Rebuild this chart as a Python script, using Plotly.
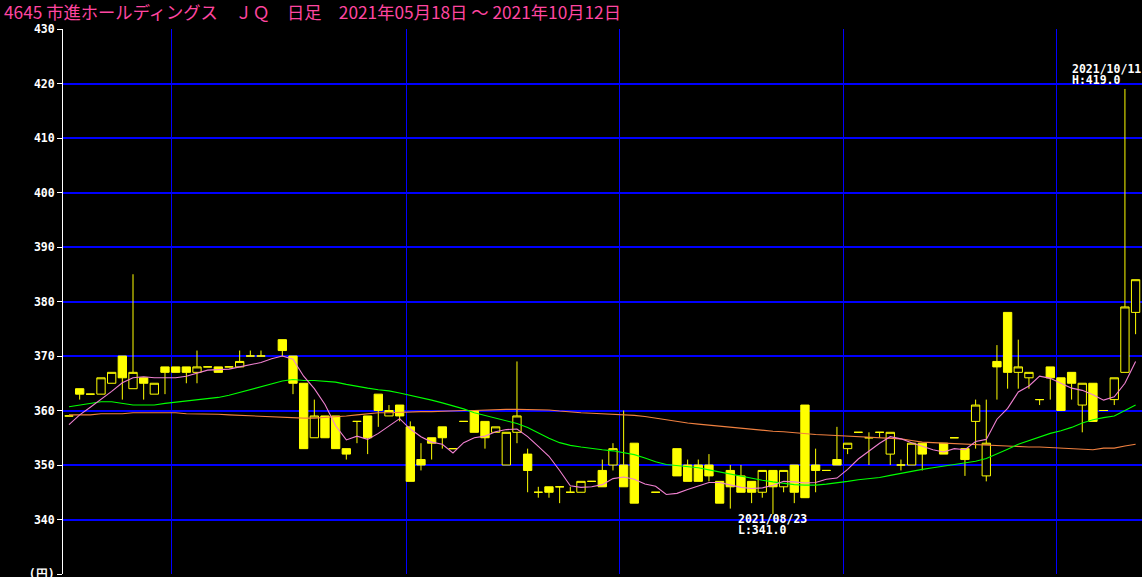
import plotly.graph_objects as go

# ---------------- data ----------------
title_text = "4645 市進ホールディングス　ＪＱ　日足　2021年05月18日 ～ 2021年10月12日"

# trading-day index 0..100 (2021-05-18 .. 2021-10-12); None = no trade drawn
opens = [359, 364, 363, 363, 365, 370, 364, 366, 363, 368,
         368, 368, 367, 368, 368, 368, 368, 370, 370, None,
         373, 370, 365, 355, 359, 359, 353, 358, 359, 363,
         359, 361, 357, 351, 355, 357, 353, 358, 360, 358,
         356, 350, 356, 352, 345, 346, 346, 345, 345, 347,
         349, 350, 350, 354, None, 345, None, 353, 350, 350,
         350, 347, 349, 348, 347, 345, 349, 346, 350, 361,
         350, 349, 351, 353, 356, 355, 356, 352, 350, 350,
         354, None, 354, 355, 353, 358, 348, 369, 378, 367,
         366, 362, 368, 366, 367, 361, 365, 360, 362, 367,
         378]
highs = [359, 364, 363, 366, 367, 370, 385, 366, 365, 368,
         368, 368, 371, 368, 368, 368, 371, 371, 371, None,
         373, 370, 365, 362, 359, 359, 353, 358, 359, 363,
         361, 361, 358, 354, 355, 357, 353, 358, 360, 358,
         357, 356, 369, 353, 346, 346, 346, 346, 347, 347,
         351, 354, 360, 354, None, 345, None, 353, 351, 351,
         352, 347, 350, 350, 347, 349, 349, 349, 350, 361,
         353, 349, 357, 354, 356, 356, 356, 356, 351, 354,
         354, None, 354, 355, 353, 362, 362, 372, 378, 373,
         367, 362, 368, 366, 367, 365, 365, 360, 366, 419,
         384]
lows = [359, 362, 363, 363, 365, 362, 364, 362, 363, 363,
        367, 365, 365, 368, 367, 368, 368, 370, 370, None,
        370, 363, 353, 355, 355, 353, 351, 354, 352, 357,
        359, 358, 347, 349, 351, 353, 353, 358, 356, 353,
        356, 350, 354, 345, 344, 344, 343, 345, 345, 347,
        346, 349, 346, 343, None, 345, None, 348, 347, 347,
        347, 343, 342, 345, 343, 344, 341, 345, 343, 344,
        345, 349, 350, 352, 356, 350, 355, 350, 349, 350,
        349, None, 352, 355, 348, 353, 347, 362, 364, 364,
        364, 361, 362, 360, 362, 356, 358, 360, 361, 367,
        374]
closes = [359, 363, 363, 366, 367, 366, 367, 365, 365, 367,
          367, 367, 368, 368, 367, 368, 369, 370, 370, None,
          371, 365, 353, 359, 355, 353, 352, 358, 355, 360,
          360, 359, 347, 350, 354, 355, 353, 358, 356, 355,
          357, 356, 359, 349, 345, 345, 346, 345, 347, 347,
          346, 353, 346, 343, None, 345, None, 348, 347, 347,
          348, 343, 346, 345, 345, 349, 346, 349, 345, 344,
          349, 349, 350, 354, 356, 355, 356, 356, 350, 354,
          352, None, 352, 355, 351, 361, 354, 368, 367, 368,
          367, 362, 366, 360, 365, 365, 358, 360, 366, 379,
          384]

ma_short = [357.4, 359.2, 360.6, 362.0, 363.5, 365.1, 366.0, 366.2, 366.0, 366.0,
            366.0, 366.3, 366.9, 367.4, 367.5, 367.6, 368.0, 368.4, 368.8, 369.5,
            370.0, 369.4, 366.3, 364.0, 361.1, 357.2, 354.6, 355.3, 354.7, 355.8,
            357.1, 358.5, 356.6, 355.2, 354.2, 353.8, 352.2, 354.1, 355.0, 355.3,
            356.1, 356.5, 356.6, 355.2, 353.4, 351.6, 349.0, 346.2, 345.9, 346.0,
            346.4, 347.5, 347.8, 347.4, 346.5, 346.1, 344.6, 344.8, 345.5, 346.2,
            346.8, 346.8, 346.3, 345.9, 345.7, 345.8, 346.3, 347.0, 346.9, 346.7,
            346.8, 347.4, 347.6, 349.2, 351.1, 352.5, 354.0, 355.2, 354.8, 354.1,
            353.4, 352.8, 352.4, 353.0, 352.8, 354.3, 354.7, 358.4, 360.4, 363.4,
            364.5, 366.3, 365.9, 365.0, 364.1, 363.7, 362.9, 361.9, 362.5, 365.0,
            369.0]
ma_mid = [360.7, 361.0, 361.4, 361.6, 361.6, 361.3, 361.0, 361.0, 361.0, 361.3,
          361.5, 361.7, 361.9, 362.1, 362.4, 362.8, 363.3, 363.8, 364.4, 364.9,
          365.4, 365.7, 365.5, 365.5, 365.4, 365.2, 364.8, 364.4, 364.1, 363.8,
          363.6, 363.2, 362.8, 362.4, 361.9, 361.4, 360.9, 360.3, 359.6, 359.1,
          358.6, 358.0, 357.6, 356.9, 355.9, 354.9, 354.1, 353.6, 353.3, 353.0,
          352.8, 352.6, 352.3, 351.9, 351.3, 350.6, 350.1, 349.9, 349.7, 349.5,
          349.1, 348.7, 348.3, 347.9, 347.6, 347.2, 346.9, 346.6, 346.4, 346.3,
          346.3, 346.5, 346.7, 347.0, 347.3, 347.5, 347.7, 348.1, 348.5, 348.9,
          349.2, 349.5, 349.8, 350.0, 350.3, 350.7, 351.2, 352.0, 352.9, 353.8,
          354.5, 355.2, 355.8, 356.3, 356.9, 357.7, 358.3, 358.7, 359.0, 360.0,
          361.0]
ma_long = [359.2, 359.2, 359.2, 359.4, 359.4, 359.4, 359.6, 359.6, 359.6, 359.6,
           359.6, 359.4, 359.4, 359.3, 359.3, 359.2, 359.1, 359.0, 358.9, 358.9,
           358.7, 358.6, 358.6, 358.6, 358.7, 358.8, 359.0, 359.2, 359.4, 359.6,
           359.6, 359.7, 359.7, 359.8, 359.8, 359.9, 359.9, 360.0, 360.0, 360.1,
           360.1, 360.2, 360.2, 360.2, 360.2, 360.1, 359.9, 359.7, 359.6, 359.5,
           359.4, 359.3, 359.3, 359.1, 358.9, 358.6, 358.3, 357.9, 357.7, 357.5,
           357.3, 357.1, 356.9, 356.7, 356.5, 356.3, 356.2, 356.1, 355.9, 355.8,
           355.6, 355.5, 355.4, 355.3, 355.2, 355.1, 355.0, 355.0, 354.8, 354.5,
           354.2, 354.1, 354.0, 353.9, 353.9, 353.8, 353.6, 353.5, 353.4, 353.4,
           353.3, 353.3, 353.2, 353.0, 353.0, 352.9, 352.8, 353.1, 353.1, 353.5,
           353.8]

month_start_idx = [10, 32, 52, 73, 93]      # first trading day of Jun..Oct
y_ticks = [330, 340, 350, 360, 370, 380, 390, 400, 410, 420, 430]
y_ticktext = ["(円)", "340", "350", "360", "370", "380", "390", "400", "410", "420", "430"]
high_date_label = "2021/10/11"
low_date_label = "2021/08/23"

# ---------------- styles ----------------
YELLOW = "#ffff00"
BLUE = "#0000ff"
PINK_TITLE = "#ff46a0"
MONO = "DejaVu Sans Mono"

n = len(closes)
idx = list(range(n))
valid = [i for i in idx if closes[i] is not None]

fig = go.Figure()
fig.add_trace(go.Candlestick(
    x=valid,
    open=[opens[i] for i in valid],
    high=[highs[i] for i in valid],
    low=[lows[i] for i in valid],
    close=[closes[i] for i in valid],
    increasing=dict(line=dict(color=YELLOW, width=1), fillcolor="#000000"),
    decreasing=dict(line=dict(color=YELLOW, width=1), fillcolor=YELLOW),
    whiskerwidth=0,
    showlegend=False,
    hoverinfo="skip",
))
fig.add_trace(go.Scatter(x=idx, y=ma_long, mode="lines",
                         line=dict(color="#f08040", width=1.1), showlegend=False, hoverinfo="skip"))
fig.add_trace(go.Scatter(x=idx, y=ma_mid, mode="lines",
                         line=dict(color="#00ff00", width=1.1), showlegend=False, hoverinfo="skip"))
fig.add_trace(go.Scatter(x=idx, y=ma_short, mode="lines",
                         line=dict(color="#f080d0", width=1.1), showlegend=False, hoverinfo="skip"))

# high / low annotations
hi_val = max(h for h in highs if h is not None)
hi_i = highs.index(hi_val)
lo_val = min(l for l in lows if l is not None)
lo_i = lows.index(lo_val)

def pad(s, w):
    return s + "\u00a0" * (w - len(s))

ann_font = dict(family=MONO, size=11.5, color="#ffffff", weight="bold")
w = max(len(high_date_label), len(low_date_label))
annotations = [
    dict(x=hi_i, y=hi_val, xref="x", yref="y", text=pad(high_date_label, w),
         showarrow=False, xanchor="right", yanchor="middle", xshift=18, yshift=20, font=ann_font),
    dict(x=hi_i, y=hi_val, xref="x", yref="y", text=pad("H:%.1f" % hi_val, w),
         showarrow=False, xanchor="right", yanchor="middle", xshift=18, yshift=9, font=ann_font),
    dict(x=lo_i, y=lo_val, xref="x", yref="y", text=pad(low_date_label, w),
         showarrow=False, xanchor="center", yanchor="middle", yshift=-5, font=ann_font),
    dict(x=lo_i, y=lo_val, xref="x", yref="y", text=pad("L:%.1f" % lo_val, w),
         showarrow=False, xanchor="center", yanchor="middle", yshift=-16, font=ann_font),
]

fig.update_layout(
    width=1142, height=577,
    margin=dict(l=63, r=0, t=29, b=3),
    paper_bgcolor="#000000", plot_bgcolor="#000000",
    boxgap=0.22, boxgroupgap=0,
    title=dict(text=title_text, x=4 / 1142, xanchor="left", xref="container",
               y=1 - 12.5 / 577, yanchor="middle", yref="container",
               font=dict(family="Noto Sans CJK JP", size=17.3, color=PINK_TITLE)),
    annotations=annotations,
    hovermode=False,
    showlegend=False,
)
fig.update_xaxes(
    range=[-0.5626, 100.6],
    rangeslider=dict(visible=False),
    tickvals=[m - 0.38 for m in month_start_idx],
    showticklabels=False, ticks="",
    showgrid=True, gridcolor=BLUE, gridwidth=1,
    zeroline=False, showline=False, automargin=False,
)
fig.update_yaxes(
    range=[330, 430],
    tickvals=y_ticks, ticktext=y_ticktext,
    ticks="outside", ticklen=5, tickcolor="#ffffff", tickwidth=1,
    ticklabeloverflow="allow", automargin=False,
    tickfont=dict(family=MONO, size=11.5, color="#ffffff", weight="bold"),
    showgrid=True, gridcolor=BLUE, gridwidth=1.5,
    zeroline=False, showline=True, linecolor="#ffffff", linewidth=1,
)

fig.write_html(
    "out.html",
    config=dict(displayModeBar=False),
    post_script="document.body.style.margin='0px';document.body.style.background='#000';",
)
